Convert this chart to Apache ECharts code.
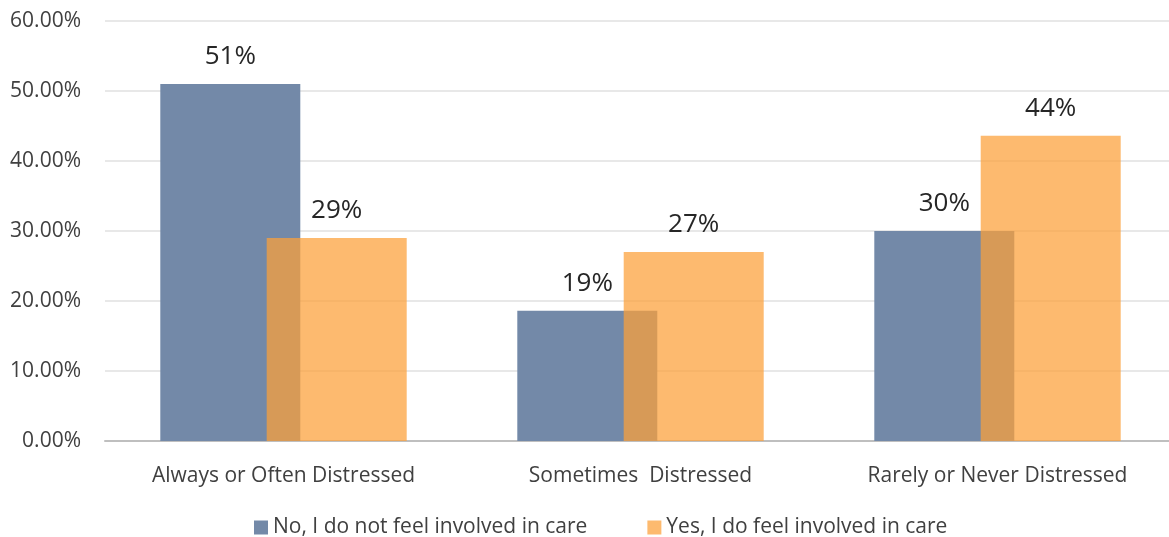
<!DOCTYPE html>
<html>
<head>
<meta charset="utf-8">
<style>
  html, body { margin: 0; padding: 0; background: #fff; overflow: hidden; }
  #chart { width: 1176px; height: 537px; }
</style>
<script src="https://cdn.jsdelivr.net/npm/echarts@6/dist/echarts.min.js"></script>
</head>
<body>
<div id="chart"></div>
<script>
// Distress level categories
const categories = ['Always or Often Distressed', 'Sometimes  Distressed', 'Rarely or Never Distressed'];
// Share of respondents (fraction) per group
const notInvolved = [0.51, 0.186, 0.30];
const involved = [0.29, 0.27, 0.436];
const seriesNames = ['No, I do not feel involved in care', 'Yes, I do feel involved in care'];
// Y-axis range and tick step
const yMax = 0.6;
const yStep = 0.1;

const font = '"Open Sans", "Noto Sans", sans-serif';

const chart = echarts.init(document.getElementById('chart'));
const pctLabel = p => Math.round(p.value * 100) + '%';

const barLabel = {
  show: true,
  position: 'top',
  distance: 14,
  fontSize: 26,
  color: '#262626',
  fontFamily: font,
  formatter: pctLabel
};

chart.setOption({
  animation: false,
  textStyle: { fontFamily: font },
  grid: { left: 105, right: 0, top: 21, bottom: 96 },
  legend: {
    bottom: -6,
    left: 249,
    itemWidth: 14,
    itemHeight: 14,
    itemGap: 60,
    icon: 'rect',
    textStyle: { fontSize: 21, color: '#404040', fontFamily: font },
    data: seriesNames
  },
  xAxis: {
    type: 'category',
    data: categories,
    axisLine: { lineStyle: { color: '#bfbfbf', width: 2 } },
    axisTick: { show: false },
    axisLabel: { fontSize: 21, color: '#404040', margin: 25, fontFamily: font }
  },
  yAxis: {
    type: 'value',
    min: 0,
    max: yMax,
    interval: yStep,
    axisLine: { show: false },
    axisTick: { show: false },
    splitLine: { lineStyle: { color: '#e8e8e8', width: 2 } },
    axisLabel: {
      fontSize: 21,
      color: '#404040',
      margin: 24,
      fontFamily: font,
      formatter: v => (v * 100).toFixed(2) + '%'
    }
  },
  series: [
    {
      name: seriesNames[0],
      type: 'bar',
      data: notInvolved,
      barWidth: 140,
      barGap: '-24%',
      itemStyle: { color: '#7389a8' },
      label: barLabel
    },
    {
      name: seriesNames[1],
      type: 'bar',
      data: involved,
      barWidth: 140,
      barGap: '-24%',
      itemStyle: { color: 'rgba(252,160,58,0.73)' },
      label: barLabel
    }
  ]
});
</script>
</body>
</html>
